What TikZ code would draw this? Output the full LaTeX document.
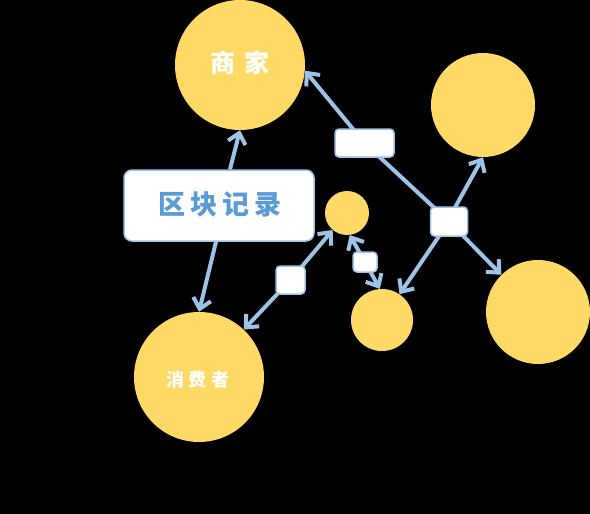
\documentclass[tikz,border=0pt]{standalone}
\usepackage{fontspec}
\newfontfamily\cjk{Noto Sans CJK SC}
\usetikzlibrary{arrows.meta}
\definecolor{gold}{RGB}{255,217,102}
\definecolor{lblue}{RGB}{157,195,230}
\definecolor{tblue}{RGB}{91,155,213}
\tikzset{
  circ/.style={circle, fill=gold, inner sep=0pt, minimum size=#1},
  lbox/.style={draw=lblue, line width=1.5pt, fill=white, rounded corners=4pt, inner sep=0pt},
  conn/.style={draw=lblue, line width=4pt},
  arr/.style={conn, -{Straight Barb[length=10pt,width=18pt,line width=4pt]}},
}
\begin{document}
\begin{tikzpicture}[x=1pt,y=-1pt]
\fill[black] (0,0) rectangle (590,514);
\useasboundingbox (0,0) rectangle (590,514);
% circles
\node[circ=130pt] (shang) at (240,65) {};
\node[circ=104pt] (tr) at (483,105) {};
\node[circ=104pt] (rc) at (538,312) {};
\node[circ=44pt] (sm) at (347,213) {};
\node[circ=62pt] (mid) at (382,320) {};
\node[circ=130pt] (cons) at (199,377) {};
% rect
\node[draw=lblue, line width=1.5pt, fill=white, rounded corners=8pt, minimum width=190pt, minimum height=71pt] (rec) at (219,205.5) {};
% label boxes (positions)
\coordinate (b1) at (364.5,143);
\coordinate (b2) at (449,221.5);
\coordinate (b3) at (290.5,280);
\coordinate (b4) at (365,262);
% connectors
\path[arr] ([xshift=11pt]rec.north) -- (shang.south);
\path[arr] ([xshift=-3pt]rec.south) -- (cons.north);
\path[conn] (b2) -- (b1);
\path[arr] (b1) -- (shang.-5);
\path[arr] ([xshift=6pt,yshift=14pt]b2) -- (tr.south);
\path[arr] (b2) -- (rc);
\path[arr] (b2) -- (mid);
\path[arr] (b3) -- (sm);
\path[arr] (b3) -- (cons);
\path[arr] (b4) -- (sm.-83);
\path[arr] (b4) -- (mid.94);
% boxes on top
\node[lbox, minimum width=59pt, minimum height=28pt] (box1) at (b1) {};
\node[lbox, minimum width=37pt, minimum height=29pt] (box2) at (b2) {};
\node[lbox, minimum width=29pt, minimum height=28pt] (box3) at (b3) {};
\node[lbox, minimum width=24pt, minimum height=20pt] (box4) at (b4) {};
% texts
\node[text=white, font=\cjk\bfseries\fontsize{25}{25}\selectfont] (tshang) at (240,63) {商\hspace{9pt}家};
\node[text=tblue, font=\cjk\bfseries\fontsize{27}{27}\selectfont] (trec) at (220,204) {区\hspace{5pt}块\hspace{5pt}记\hspace{5pt}录};
\node[text=white, font=\cjk\bfseries\fontsize{18}{18}\selectfont] (tcons) at (198,380) {消\hspace{5pt}费\hspace{5pt}者};
\end{tikzpicture}
\end{document}
